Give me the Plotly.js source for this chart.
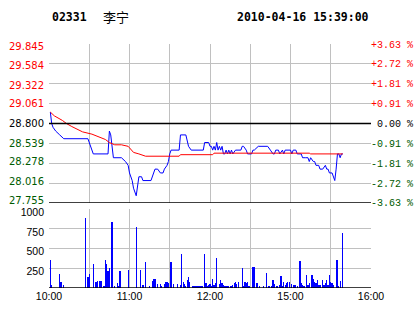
<!DOCTYPE html>
<html>
<head>
<meta charset="utf-8">
<script src="https://cdn.plot.ly/plotly-3.0.1.min.js"></script>
<style>html,body{margin:0;padding:0;background:#fff;}#chart{width:414px;height:314px;}</style>
</head>
<body>
<div id="chart"></div>
<script>
const tradeDate = "2010-04-16";
const stockCode = "02331";
const stockName = "李宁";
const stamp = "2010-04-16 15:39:00";
const prevClose = 28.80;
const priceTicks = [27.755, 28.016, 28.278, 28.539, 28.800, 29.061, 29.322, 29.584, 29.845];
const volTicks = [250, 500, 750, 1000];
const gridTimes = ["10:00","10:30","11:00","11:30","12:00","14:30","15:00","15:30","16:00"];
const gridLabels = ["10:00","","11:00","","12:00","","15:00","","16:00"];

const priceTimes = ["10:01","10:02","10:03","10:05","10:08","10:11","10:29","10:30","10:31","10:33","10:44","10:45","10:46","10:47","10:48","10:54","10:57","10:59","11:00","11:02","11:03","11:05","11:06","11:07","11:09","11:10","11:16","11:18","11:19","11:21","11:23","11:25","11:26","11:28","11:29","11:30","11:31","11:37","11:38","11:42","11:43","11:44","11:46","11:55","11:56","11:59","12:00","12:01","12:02","12:03","12:04","12:05","12:06","12:07","12:08","12:09","12:10","12:11","12:12","12:13","12:14","12:15","12:16","12:17","12:19","12:23","12:24","12:25","12:27","12:28","12:29","14:31","14:32","14:33","14:36","14:43","14:45","14:47","14:48","14:49","14:51","14:52","14:54","14:55","14:56","15:00","15:01","15:02","15:04","15:05","15:08","15:09","15:11","15:13","15:14","15:15","15:17","15:18","15:19","15:21","15:22","15:24","15:26","15:27","15:28","15:29","15:31","15:32","15:33","15:34","15:35","15:36","15:37","15:38","15:39"];
const prices = [28.95,28.80,28.75,28.70,28.65,28.60,28.60,28.55,28.50,28.40,28.40,28.70,28.65,28.50,28.35,28.35,28.30,28.25,28.15,28.05,27.95,27.85,27.95,28.10,28.10,28.05,28.05,28.15,28.20,28.20,28.15,28.15,28.20,28.25,28.30,28.40,28.45,28.45,28.65,28.65,28.55,28.50,28.45,28.45,28.55,28.55,28.50,28.50,28.45,28.50,28.45,28.55,28.45,28.50,28.45,28.50,28.40,28.40,28.45,28.40,28.45,28.40,28.45,28.40,28.45,28.45,28.50,28.50,28.45,28.40,28.40,28.40,28.45,28.45,28.50,28.50,28.45,28.40,28.40,28.45,28.45,28.40,28.45,28.40,28.45,28.45,28.40,28.45,28.45,28.40,28.40,28.35,28.35,28.35,28.30,28.35,28.30,28.30,28.25,28.25,28.20,28.20,28.25,28.20,28.20,28.15,28.15,28.10,28.05,28.20,28.40,28.40,28.35,28.40,28.40];

const avgTimes = ["10:01","10:04","10:10","10:13","10:17","10:25","10:32","10:36","10:42","10:45","10:49","10:54","10:59","11:00","11:03","11:07","11:12","11:37","11:38","12:02","12:03","15:14","15:15","15:39"];
const avgPrices = [28.95,28.90,28.84,28.80,28.76,28.69,28.66,28.63,28.59,28.55,28.52,28.52,28.50,28.48,28.42,28.40,28.37,28.37,28.39,28.39,28.41,28.41,28.40,28.40];

const volTimes = ["10:01","10:02","10:08","10:09","10:11","10:27","10:29","10:30","10:33","10:35","10:36","10:38","10:39","10:41","10:42","10:43","10:44","10:45","10:47","10:49","10:51","10:52","10:53","10:59","11:05","11:08","11:10","11:12","11:15","11:17","11:18","11:19","11:21","11:23","11:24","11:26","11:27","11:28","11:29","11:31","11:33","11:36","11:38","11:39","11:40","11:41","11:42","11:43","11:44","11:45","11:47","11:48","11:49","11:50","11:51","11:52","11:53","11:54","11:56","11:57","11:58","11:59","12:00","12:01","12:02","12:03","12:04","12:05","12:07","12:08","12:09","12:10","12:11","12:12","12:13","12:14","12:15","12:16","12:17","12:18","12:19","12:20","12:21","12:24","12:25","12:26","12:27","12:28","12:29","14:32","14:33","14:35","14:37","14:40","14:42","14:44","14:46","14:47","14:48","14:50","14:52","14:53","14:54","14:55","14:56","14:57","14:58","14:59","15:01","15:02","15:03","15:04","15:05","15:07","15:08","15:09","15:10","15:12","15:13","15:14","15:16","15:17","15:18","15:19","15:20","15:21","15:22","15:24","15:25","15:26","15:27","15:28","15:29","15:30","15:31","15:32","15:34","15:35","15:36","15:37","15:39"];
const volumes = [360,40,180,70,40,890,135,180,310,70,95,90,90,30,360,310,210,260,840,30,65,25,220,230,775,230,40,330,25,90,120,120,55,50,30,50,70,70,60,325,50,55,40,430,80,50,30,105,140,70,30,30,25,25,25,25,25,25,430,60,30,40,45,30,120,40,60,385,50,100,60,40,25,25,25,25,25,25,40,60,80,50,80,255,30,80,60,80,25,265,265,60,25,25,195,25,25,105,50,25,40,150,25,80,40,60,80,80,50,40,40,40,30,345,60,40,30,170,40,60,170,120,80,60,100,40,40,105,40,60,105,40,165,80,60,40,360,360,30,90,700];

const d = t => tradeDate + " " + t;
const GREEN = "#005a00", RED = "#ff0000";
const colorFor = v => v > prevClose + 1e-9 ? RED : (v < prevClose - 1e-9 ? GREEN : "#000000");
const leftLabel = v => '<span style="color:' + colorFor(v) + '">' + v.toFixed(3) + '</span>';
// left labels split into three groups (upper / middle / lower) so each group can sit like the reference
const groupOf = v => v > 29.2 ? 0 : (v > 28.4 ? 1 : 2);
const leftTextFor = g => priceTicks.map(v => groupOf(v) === g ? leftLabel(v) : "");
const rightText = priceTicks.map(v => {
  const pc = (v - prevClose) / prevClose * 100;
  let s;
  if (Math.abs(pc) < 0.005) s = "\u00a00.00 %";
  else s = (pc > 0 ? "+" : "-") + Math.abs(pc).toFixed(2) + " %";
  return '<span style="color:' + colorFor(v) + '">' + s + '</span>';
});

const traces = [
  {x: priceTimes.map(d), y: prices, type: "scatter", mode: "lines", line: {color: "#0000ff", width: 1}, xaxis: "x", yaxis: "y", hoverinfo: "skip"},
  {x: avgTimes.map(d), y: avgPrices, type: "scatter", mode: "lines", line: {color: "#ff0000", width: 1}, xaxis: "x", yaxis: "y", hoverinfo: "skip"},
  {x: volTimes.map(d), y: volumes, type: "bar", marker: {color: "#0000ff", line: {width: 0}}, width: 55000, xaxis: "x", yaxis: "y2", hoverinfo: "skip"},
  {x: [d("10:00")], y: [prevClose], type: "scatter", mode: "none", xaxis: "x", yaxis: "y3", hoverinfo: "skip"},
  {x: [d("10:00")], y: [prevClose], type: "scatter", mode: "none", xaxis: "x", yaxis: "y4", hoverinfo: "skip"},
  {x: [d("10:00")], y: [prevClose], type: "scatter", mode: "none", xaxis: "x", yaxis: "y5", hoverinfo: "skip"}
];

const gridC = "#c0c0c0";
const leftFont = {family: "DejaVu Sans", size: 10, color: "#000"};
const overlayLeft = (g, shift) => ({
  overlaying: "y", side: "left", range: [27.755, 29.845], anchor: "x",
  tickmode: "array", tickvals: priceTicks, ticktext: leftTextFor(g),
  showgrid: false, ticks: "", zeroline: false, showline: false,
  tickfont: leftFont, ticklabelstandoff: 4, ticklabelshift: shift, fixedrange: true
});
const layout = {
  width: 414, height: 314,
  margin: {l: 49, r: 43, t: 44, b: 26, pad: 0},
  paper_bgcolor: "#fff", plot_bgcolor: "#fff",
  showlegend: false, bargap: 0,
  xaxis: {
    type: "date", range: [d("10:00"), d("16:00")],
    rangebreaks: [{bounds: [d("12:30"), d("14:30")]}],
    tickmode: "array", tickvals: gridTimes.map(d), ticktext: gridLabels,
    showgrid: true, gridcolor: gridC, gridwidth: 1, ticks: "", zeroline: false, showline: false,
    anchor: "y2", tickfont: {family: "Liberation Sans", size: 10.5, color: "#000"}, fixedrange: true
  },
  yaxis: {
    domain: [0.3484, 1], range: [27.755, 29.845], anchor: "x",
    tickmode: "array", tickvals: priceTicks, ticktext: leftTextFor(0),
    showgrid: true, gridcolor: gridC, gridwidth: 1, ticks: "", zeroline: false, showline: false,
    tickfont: leftFont, ticklabelstandoff: 4, ticklabelshift: 2, fixedrange: true
  },
  yaxis4: overlayLeft(1, 0),
  yaxis5: overlayLeft(2, -2),
  yaxis3: {
    overlaying: "y", side: "right", range: [27.755, 29.845], anchor: "x",
    tickmode: "array", tickvals: priceTicks, ticktext: rightText,
    showgrid: false, ticks: "", zeroline: false, showline: false,
    tickfont: {family: "Liberation Mono", size: 10, color: "#000"}, ticklabelstandoff: -1, fixedrange: true
  },
  yaxis2: {
    domain: [0, 0.3225], range: [0, 1000], anchor: "x",
    tickmode: "array", tickvals: volTicks, ticktext: volTicks.map(String),
    showgrid: true, gridcolor: gridC, gridwidth: 1, ticks: "", zeroline: false, showline: false,
    ticklabelshift: 3,
    tickfont: {family: "Liberation Sans", size: 10.5, color: "#000"}, ticklabelstandoff: 4, fixedrange: true
  },
  shapes: [
    {type: "line", xref: "x domain", yref: "y", x0: 0, x1: 1, y0: prevClose, y1: prevClose, line: {color: "#000", width: 1.3}, layer: "above"},
    {type: "line", xref: "x domain", yref: "y", x0: 0, x1: 1, y0: 27.755, y1: 27.755, line: {color: "#000", width: 1.5}, layer: "above"},
    {type: "line", xref: "x domain", yref: "y2", x0: 0, x1: 1, y0: 0, y1: 0, line: {color: "#000", width: 1.5}, layer: "above"}
  ],
  annotations: [
    {xref: "paper", yref: "paper", x: 0.003, y: 1.111, xanchor: "left", yanchor: "middle", showarrow: false, text: "<b>" + stockCode + "</b>", font: {family: "DejaVu Sans Mono", size: 11.5, color: "#000"}},
    {xref: "paper", yref: "paper", x: 0.163, y: 1.113, xanchor: "left", yanchor: "middle", showarrow: false, text: stockName, font: {family: "Noto Sans CJK SC", size: 13, color: "#000"}},
    {xref: "paper", yref: "paper", x: 0.578, y: 1.111, xanchor: "left", yanchor: "middle", showarrow: false, text: "<b>" + stamp + "</b>", font: {family: "DejaVu Sans Mono", size: 11.5, color: "#000"}}
  ]
};

Plotly.newPlot("chart", traces, layout, {staticPlot: true, displayModeBar: false});
</script>
</body>
</html>
